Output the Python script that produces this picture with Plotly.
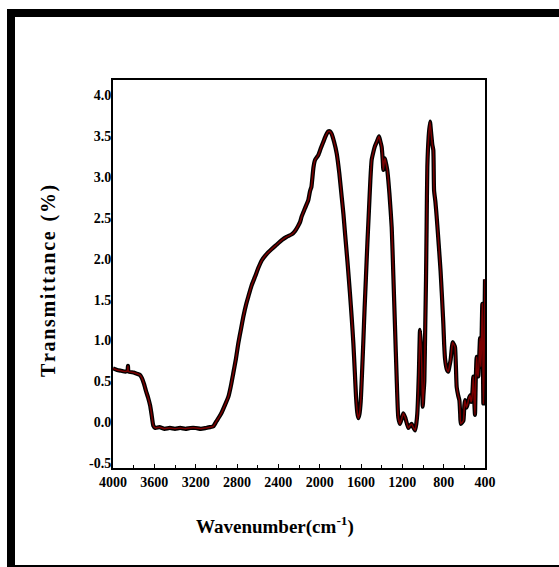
import plotly.graph_objects as go

# FTIR spectrum: wavenumber (cm-1) and transmittance (%)
wavenumber = [
    4000, 3960, 3920, 3880, 3860, 3855, 3850, 3800, 3760, 3740, 3720, 3700,
    3680, 3660, 3640, 3625, 3610, 3590, 3550, 3500, 3450, 3400, 3350, 3300,
    3250, 3200, 3150, 3100, 3060, 3030, 3000, 2970, 2948, 2920, 2884, 2860,
    2836, 2810, 2787, 2760, 2739, 2710, 2690, 2660, 2626, 2590, 2561, 2520,
    2464, 2420, 2367, 2320, 2271, 2239, 2210, 2190, 2174, 2142, 2110, 2095,
    2088, 2080, 2060, 2045, 2013, 1990, 1965, 1940, 1916, 1900, 1884, 1860,
    1835, 1810, 1787, 1770, 1755, 1730, 1707, 1690, 1674, 1660, 1648, 1636,
    1626, 1615, 1603, 1590, 1578, 1565, 1552, 1538, 1523, 1510, 1497, 1480,
    1465, 1445, 1426, 1415, 1400, 1390, 1384, 1376, 1368, 1355, 1345, 1325,
    1303, 1287, 1271, 1255, 1239, 1223, 1205, 1190, 1170, 1142, 1125, 1110,
    1095, 1077, 1065, 1055, 1040, 1029, 1020, 1013, 1003, 995, 987, 978,
    971, 965, 958, 945, 932, 922, 910, 900, 893, 880, 868, 855,
    842, 830, 819, 810, 803, 795, 787, 770, 755, 745, 733, 720,
    713, 700, 690, 682, 674, 660, 648, 640, 635, 620, 609, 600,
    594, 580, 571, 558, 545, 535, 529, 520, 513, 505, 497, 490,
    481, 473, 465, 456, 448, 443, 439, 432, 426, 420, 416, 410,
    405, 400,
]
transmittance = [
    0.66, 0.64, 0.63, 0.62, 0.63, 0.69, 0.62, 0.61, 0.59, 0.58, 0.54, 0.47,
    0.38, 0.30, 0.20, 0.08, -0.04, -0.07, -0.06, -0.08, -0.07, -0.08, -0.07, -0.08,
    -0.07, -0.07, -0.08, -0.07, -0.06, -0.05, 0.01, 0.07, 0.12, 0.20, 0.31, 0.44,
    0.60, 0.78, 0.97, 1.15, 1.29, 1.45, 1.54, 1.67, 1.78, 1.90, 1.98, 2.05,
    2.12, 2.17, 2.23, 2.27, 2.30, 2.34, 2.40, 2.45, 2.52, 2.62, 2.72, 2.82,
    2.85, 2.88, 3.12, 3.21, 3.27, 3.35, 3.43, 3.51, 3.56, 3.56, 3.53, 3.43,
    3.29, 3.05, 2.76, 2.55, 2.32, 1.95, 1.58, 1.28, 0.97, 0.62, 0.31, 0.12,
    0.05, 0.10, 0.25, 0.60, 0.97, 1.40, 1.78, 2.20, 2.60, 2.95, 3.21, 3.31,
    3.38, 3.44, 3.50, 3.45, 3.37, 3.22, 3.09, 3.18, 3.23, 3.15, 3.08, 2.80,
    2.39, 1.80, 1.17, 0.55, 0.06, -0.02, 0.05, 0.11, 0.05, -0.07, -0.04, -0.02,
    -0.06, -0.10, -0.02, 0.11, 0.60, 1.13, 0.95, 0.72, 0.19, 0.35, 0.51, 1.20,
    1.74, 2.40, 3.13, 3.50, 3.68, 3.55, 3.40, 3.33, 2.84, 2.70, 2.52, 2.30,
    2.07, 1.85, 1.60, 1.38, 1.20, 0.95, 0.78, 0.65, 0.62, 0.68, 0.76, 0.92,
    0.98, 0.95, 0.92, 0.70, 0.43, 0.33, 0.27, 0.10, -0.02, 0.00, 0.02, 0.20,
    0.27, 0.18, 0.21, 0.28, 0.33, 0.25, 0.27, 0.40, 0.56, 0.30, 0.09, 0.50,
    0.80, 0.60, 0.56, 0.80, 1.03, 0.75, 0.68, 1.10, 1.45, 0.80, 0.23, 0.60,
    1.20, 1.75,
]

x_ticks = [4000, 3600, 3200, 2800, 2400, 2000, 1600, 1200, 800, 400]
y_ticks = [-0.5, 0.0, 0.5, 1.0, 1.5, 2.0, 2.5, 3.0, 3.5, 4.0]

SERIF = "Liberation Serif, Times New Roman, serif"
W, H = 559, 567
L, R, T, B = 113, 74, 80, 99
PW, PH = W - L - R, H - T - B


def px(x):
    return (x - L) / PW


def py(y):
    return (H - B - y) / PH


fig = go.Figure()
# thick black outline with a dark red core
fig.add_trace(go.Scatter(x=wavenumber, y=transmittance, mode="lines",
                         line=dict(color="black", width=4.2, shape="spline", smoothing=0.5),
                         hoverinfo="skip"))
fig.add_trace(go.Scatter(x=wavenumber, y=transmittance, mode="lines",
                         line=dict(color="#7a0000", width=1.5, shape="spline", smoothing=0.5)))

axis_common = dict(
    showline=True, linecolor="black", linewidth=2, mirror=True,
    showgrid=False, zeroline=False,
    tickfont=dict(family=SERIF, size=14, color="black", weight="bold"),
)

fig.update_xaxes(
    range=[4000, 400], tickvals=x_ticks, ticktext=[str(v) for v in x_ticks],
    ticks="inside", ticklen=4, tickwidth=1, tickcolor="black",
    minor=dict(dtick=200, tick0=400, ticks="inside", ticklen=3, tickcolor="black"),
    **axis_common,
)
fig.update_yaxes(
    range=[-0.56, 4.19], tickvals=y_ticks,
    ticktext=[f"{v:.1f}" for v in y_ticks],
    ticks="", ticklabelstandoff=-3, **axis_common,
)

# outer frame around the figure
frame = [
    (7, 9, 15, 567),     # left bar
    (7, 9, 559, 17),     # top bar
    (7, 565, 559, 567),  # bottom edge
]
shapes = []
for x0, y0, x1, y1 in frame:
    shapes.append(dict(type="rect", xref="paper", yref="paper",
                       x0=px(x0), x1=px(x1), y0=py(y1), y1=py(y0),
                       fillcolor="black", line=dict(width=0), layer="above"))

ytitle = "\u200a".join("Transmittance") + "  " + "\u200a".join("(%)")

fig.update_layout(
    width=W, height=H,
    margin=dict(l=L, r=R, t=T, b=B),
    paper_bgcolor="white", plot_bgcolor="white",
    showlegend=False,
    shapes=shapes,
    annotations=[
        dict(text="Wavenumber(cm<sup>-1</sup>)", xref="paper", yref="paper",
             x=px(275), y=py(525), showarrow=False, xanchor="center", yanchor="middle",
             font=dict(family=SERIF, size=19, color="black", weight="bold")),
        dict(text=ytitle, xref="paper", yref="paper",
             x=px(48), y=py(281), showarrow=False, textangle=-90,
             xanchor="center", yanchor="middle",
             font=dict(family=SERIF, size=20, color="black", weight="bold")),
    ],
)

fig.write_html("out.html")
